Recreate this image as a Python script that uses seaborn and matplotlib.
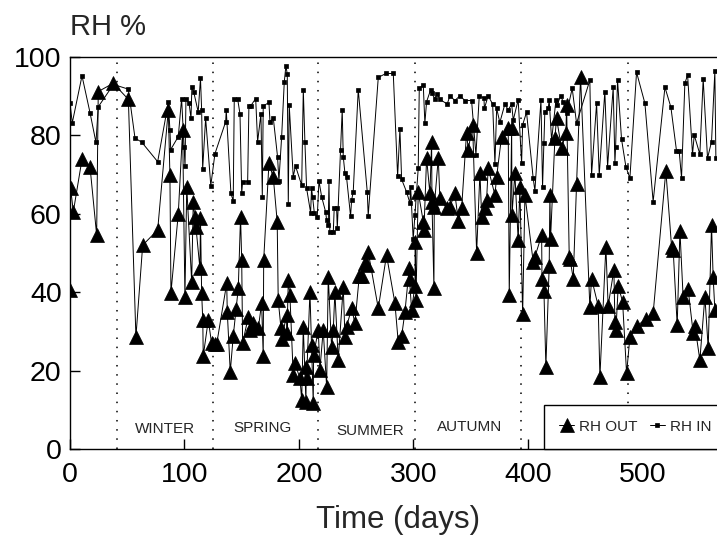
import matplotlib
matplotlib.use("Agg")
import matplotlib.pyplot as plt
import seaborn as sns
import pandas as pd

# RH outside (triangles)
out_days = [0, 0.6, 2.9, 10.5, 17.5, 23.3, 24.7, 37.8, 51, 57.6, 63.5, 76.6, 85.9, 87.3, 88.2,
            94.6, 98.4, 100.4, 102, 106.3, 107.7, 109, 110, 113.5, 114, 115, 116, 116.4, 120.8,
            123.7, 126.6, 128.1, 136.9, 137.4, 140, 142.6, 145, 147, 149, 150, 150.8, 155.7,
            157.2, 160.1, 164.5, 167.4, 168.8, 169.2, 173.8, 177.6, 181, 181.9, 184.3, 184.9,
            189.3, 189.6, 190.7, 192.1, 195, 196.5, 200.9, 202.4, 203.8, 206.1, 206.4, 206.7,
            209.6, 211, 212.5, 212.8, 216.9, 218.3, 221.2, 224.2, 225.6, 228.5, 230, 231.4,
            234.3, 238.7, 240.2, 241.6, 246, 248.9, 252.7, 254.7, 257.6, 259.7, 260.5, 269.3,
            276.5, 283.8, 286.7, 289.7, 292.6, 296.3, 296.6, 298.4, 301.3, 301.6, 302.2, 304.2,
            308.6, 309.2, 311.5, 314.4, 315.9, 316.2, 317.9, 318.2, 321.7, 323.1, 329, 331.9,
            336.2, 339.2, 342.1, 346.4, 347.9, 351.7, 355.2, 358.1, 359.6, 362.4, 363.9, 365.3,
            371.2, 372.7, 377, 382.8, 383.7, 385.8, 386.1, 388.6, 391.5, 393, 395.4, 397.4,
            404.6, 406.1, 412, 412.3, 414, 415.7, 418.6, 419.2, 419.8, 423.6, 425, 429.4, 433.2,
            433.8, 436.1, 436.7, 439.6, 442.5, 446, 454.1, 455.6, 461.4, 462.9, 468.1, 470.1,
            475.1, 476, 476.9, 478.9, 482.7, 486.2, 489.1, 495.5, 503.1, 509.4, 520.5, 525.5,
            526.9, 530.4, 532.8, 535.6, 540, 544.4, 545.9, 550.2, 554.6, 557.5, 560.4, 561.8,
            563.3]
out_rh = [40.6, 66.5, 60.5, 73.9, 72, 54.6, 91.2, 93.3, 89.2, 28.6, 52, 55.9, 86.5, 69.9, 39.9,
          60, 81.4, 38.9, 66.9, 42.7, 63.1, 59.3, 56.7, 46.1, 59, 39.9, 32.9, 23.7, 32.9,
          27, 26.7, 26.7, 42.3, 35, 19.7, 28.8, 35.6, 41, 59.3, 48.2, 27, 33.7,
          30.4, 32.1, 30.8, 37.2, 23.7, 48.2, 72.9, 69.3, 58, 38, 30.8, 28.2,
          34.2, 29.5, 43.1, 39.3, 18.9, 21.9, 18, 12.5, 31.2, 12.1, 21, 18,
          40.1, 26.5, 11.8, 24, 30.4, 20.2, 30.4, 15.9, 44, 26.1, 30.4, 40.1,
          22.7, 41.4, 28.6, 31.2, 35.9, 32.1, 44.1, 44.1, 47.4, 46.9, 50.3, 35.9,
          49.5, 37.3, 27.4, 28.8, 35, 46.1, 43.3, 35.5, 41.6, 52.9, 38, 65.6,
          58, 55.9, 74.2, 65.2, 78.4, 63.1, 41.2, 61.8, 74.2, 64, 61.4, 61.8,
          65.2, 58.2, 61.4, 80.7, 76.4, 82.7, 50.1, 70.5, 59.3, 61.4, 63.5, 71.6,
          64.8, 69.5, 79.7, 81.8, 39.3, 81.8, 59.7, 70.3, 53.3, 66.9, 34.4, 64.8,
          47.8, 49, 54.6, 43.3, 40.4, 21, 46.7, 64.8, 53.7, 79.3, 84.4, 76.7, 80.7,
          87.8, 49, 48.6, 43.5, 67.6, 95, 36.3, 43.5, 36.5, 18.4, 51.6, 36.5,
          45.7, 32.5, 30.4, 41.6, 37.6, 19.3, 28.5, 31.4, 33.3, 34.6, 71, 51.6,
          50.8, 31.6, 55.7, 38.7, 40.7, 29.5, 31.4, 22.7, 38.9, 25.7, 57.1, 44,
          35.5]

# RH inside (small squares)
in_days = [0, 2, 10.5, 17.5, 22.7, 24.7, 38, 51, 56.8, 62.6, 76.6, 85.9, 87.3, 88, 94.6, 97.5,
           99.6, 100.5, 101.3, 104, 105.7, 106.5, 108, 112, 114, 115, 115.9, 118.5, 123, 126.6,
           136, 136.5, 140.6, 142.6, 143.5, 146.4, 148.5, 150, 150.8, 155.2, 156.3, 157.8,
           162.2, 163.9, 166.8, 168, 168.8, 173.8, 174.7, 177.6, 181.3, 182.5, 184.9, 187.2,
           188.6, 189.8, 190.7, 191.5, 195, 197, 202.4, 203.8, 205.2, 206.7, 210.2, 211,
           211.9, 213.4, 216, 217.5, 219.8, 223.3, 224.2, 225.6, 226.2, 227, 230, 230.8,
           232.9, 233.5, 236.4, 237.8, 238.7, 240.2, 241.6, 245.1, 246, 247.4, 251.8, 259.7,
           260.5, 269.3, 276, 282.4, 286.2, 288.2, 289.7, 294, 297, 297.6, 299.8, 301.3,
           304.2, 305.1, 308.6, 310, 311.5, 315, 315.9, 318.8, 320.8, 323.1, 329.5, 331.9,
           336.2, 340.6, 345, 350.8, 354.6, 357.5, 361.6, 362, 365.3, 369.2, 371.2, 372.7,
           375.5, 379.9, 382.8, 385.8, 387.2, 391.5, 394.5, 395.4, 398.8, 404.6, 406.1, 411.4,
           412.8, 414, 414.8, 417.7, 418.6, 420.7, 424.5, 425.6, 428.6, 430.8, 433.8, 438.7,
           442.5, 454.1, 455.6, 460, 462.3, 467.2, 469.6, 474.5, 476, 476.6, 478.3, 481.8,
           485.6, 489.1, 494.9, 502.2, 509.4, 519.7, 524.9, 529.8, 532.1, 534.2, 537.1, 539.5,
           543.8, 545.3, 550.2, 553.1, 556.9, 560.4, 563.3, 564.2]
in_rh = [88.2, 83.2, 95.2, 85.8, 78.2, 87.3, 93, 91.8, 79.3, 78.3, 73.3, 88.4, 81.4, 76.4, 79.7, 89.4,
         77.1, 72.2, 89.4, 88.2, 84.4, 92.4, 91.2, 86, 94.6, 86.5, 71.4, 84.4, 67.2, 75.3,
         83.5, 86.5, 65.2, 63.3, 89.4, 89.4, 85.5, 65.2, 68.2, 68.2, 87.5, 87.5,
         89.4, 78.4, 85.5, 64.4, 87.5, 88.4, 83.5, 84.4, 74.6, 68.4, 79.7, 93.7,
         97.7, 95.7, 62.4, 87.8, 69.5, 72.2, 67.3, 91.7, 78.4, 66.5, 60.3, 66.5,
         64.4, 60.3, 59.3, 68.4, 64.4, 60.5, 58.4, 57.1, 68.4, 55.4, 55.4, 61.4,
         61.4, 56.3, 76.4, 86.6, 74.6, 70.3, 69.3, 59.4, 63.5, 65.5, 91.7, 65.5,
         59.5, 94.8, 95.8, 95.8, 69.6, 81.6, 68.8, 65.6, 62.7, 66.8, 53.5, 59.7,
         71.6, 92, 92.9, 83.1, 88.6, 91.6, 90.7, 89.4, 90.6, 89.2, 88, 90.1,
         88.9, 90.1, 88.9, 88.9, 75, 90.1, 89.5, 86.9, 90.1, 88, 72.7, 86.9,
         83.3, 88, 86.5, 88, 83.9, 89.1, 72.9, 82.7, 85.9, 69.1, 65.9, 89,
         66.9, 78, 86, 86.9, 89, 78.8, 89, 87.8, 90.1, 88.6, 85.6, 92,
         83.1, 94.1, 69.9, 88.2, 69.9, 91.2, 72, 92.3, 73, 77, 94.1, 79,
         72, 69.1, 96.1, 88.2, 63.1, 92.3, 87.2, 76.1, 76.1, 69.2, 93.3, 95.4,
         75.2, 80.1, 75.2, 94.4, 74.2, 78.4, 96.4, 74.2]

season_bounds = [41.5, 125, 216.6, 301, 394, 487]
season_names = ["WINTER", "SPRING", "SUMMER", "AUTUMN"]
season_x = [83, 168, 262, 349]
season_y = [5.1, 5.4, 4.6, 5.6]

sns.set_style("ticks")
plt.rcParams['font.family'] = ['Liberation Sans', 'DejaVu Sans']

df_out = pd.DataFrame({"day": out_days, "rh": out_rh})
df_in = pd.DataFrame({"day": in_days, "rh": in_rh})

fig = plt.figure(figsize=(7.17, 5.43), dpi=100)
ax = fig.add_axes([0.0976, 0.173, 0.958, 0.722])

sns.lineplot(data=df_in, x="day", y="rh", ax=ax, estimator=None, color="black", lw=0.7,
             marker="s", markersize=3.5, markeredgecolor="black", markeredgewidth=0.5,
             label="RH IN")
sns.lineplot(data=df_out, x="day", y="rh", ax=ax, estimator=None, color="black", lw=0.7,
             marker="^", markersize=10, markeredgecolor="black", markeredgewidth=0.5,
             label="RH OUT")

for b in season_bounds:
    ax.axvline(b, color="black", lw=1.1, ls=(0, (1, 5)))
for name, sx, sy in zip(season_names, season_x, season_y):
    ax.text(sx, sy, name, fontsize=11, ha="center", va="center")

ax.set_xlim(0, 600)
ax.set_ylim(0, 100)
ax.set_xticks(range(0, 501, 100))
ax.set_yticks(range(0, 101, 20))
ax.tick_params(direction="in", length=7, width=1, labelsize=20.5, colors="black")
ax.tick_params(axis="x", pad=9)
ax.tick_params(axis="y", pad=6)
ax.set_xlabel("")
ax.set_ylabel("")
for s in ax.spines.values():
    s.set_color("black")
    s.set_linewidth(1)

fig.text(70 / 717, 1 - 35 / 543, "RH %", fontsize=21, ha="left", va="baseline")
fig.text(398 / 717, 1 - 520 / 543, "Time (days)", fontsize=22.5, ha="center", va="center")

h, l = ax.get_legend_handles_labels()
leg = ax.legend([h[1], h[0]], [l[1], l[0]], loc="lower left", bbox_to_anchor=(0.69, 0),
                ncol=2, frameon=True, fancybox=False, edgecolor="black", framealpha=1,
                fontsize=11, borderpad=1.0, handlelength=1.0, handletextpad=0.3,
                columnspacing=0.8, borderaxespad=0)
leg.get_frame().set_linewidth(1)

fig.savefig("out.png", dpi=100)
